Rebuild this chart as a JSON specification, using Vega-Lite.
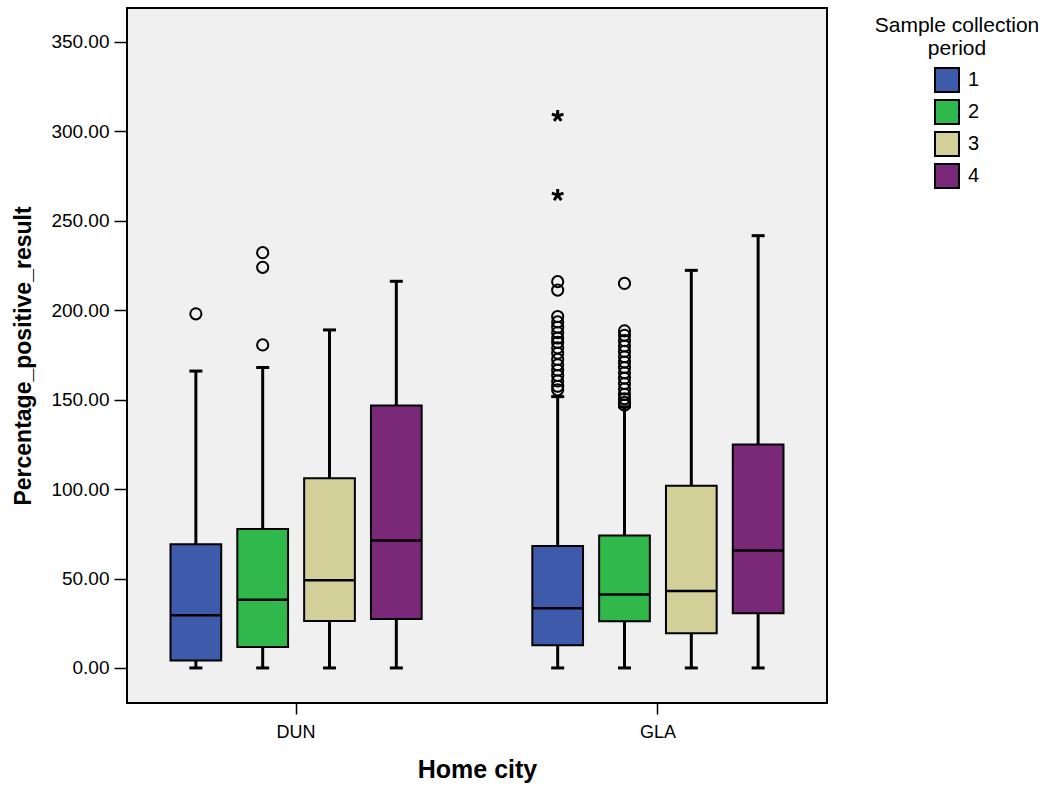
{
  "$schema": "https://vega.github.io/schema/vega-lite/v6.json",
  "width": 700,
  "height": 695,
  "autosize": {"type": "none"},
  "padding": {"left": 127, "top": 8, "right": 230, "bottom": 84},
  "background": "white",
  "config": {
    "font": "Liberation Sans",
    "view": {"stroke": "black", "strokeWidth": 2, "fill": "#f0f0f0"},
    "axis": {"grid": false, "domain": false, "labelColor": "black", "titleColor": "black", "tickColor": "black", "tickWidth": 1.5}
  },
  "datasets": {
    "boxes": [
      {"city": "DUN", "period": "1", "lower": 0, "q1": 4.1, "median": 29.5, "q3": 69.1, "upper": 166},
      {"city": "DUN", "period": "2", "lower": 0, "q1": 11.7, "median": 38.2, "q3": 77.7, "upper": 168},
      {"city": "DUN", "period": "3", "lower": 0, "q1": 26.3, "median": 49, "q3": 106, "upper": 189},
      {"city": "DUN", "period": "4", "lower": 0, "q1": 27.4, "median": 71.2, "q3": 146.8, "upper": 216.2},
      {"city": "GLA", "period": "1", "lower": 0, "q1": 12.7, "median": 33.4, "q3": 68.2, "upper": 151.7},
      {"city": "GLA", "period": "2", "lower": 0, "q1": 26.1, "median": 41, "q3": 74, "upper": 146},
      {"city": "GLA", "period": "3", "lower": 0, "q1": 19.4, "median": 43, "q3": 101.9, "upper": 222.3},
      {"city": "GLA", "period": "4", "lower": 0, "q1": 30.6, "median": 65.6, "q3": 125, "upper": 241.7}
    ],
    "outliers": [
      {"city": "DUN", "period": "1", "value": 198, "kind": "circle"},
      {"city": "DUN", "period": "2", "value": 232.2, "kind": "circle"},
      {"city": "DUN", "period": "2", "value": 224, "kind": "circle"},
      {"city": "DUN", "period": "2", "value": 180.6, "kind": "circle"},
      {"city": "GLA", "period": "1", "value": 308.6, "kind": "star"},
      {"city": "GLA", "period": "1", "value": 264.4, "kind": "star"},
      {"city": "GLA", "period": "1", "value": 216, "kind": "circle"},
      {"city": "GLA", "period": "1", "value": 211.3, "kind": "circle"},
      {"city": "GLA", "period": "1", "value": 196.5, "kind": "circle"},
      {"city": "GLA", "period": "1", "value": 193.5, "kind": "circle"},
      {"city": "GLA", "period": "1", "value": 190.5, "kind": "circle"},
      {"city": "GLA", "period": "1", "value": 187.5, "kind": "circle"},
      {"city": "GLA", "period": "1", "value": 184.5, "kind": "circle"},
      {"city": "GLA", "period": "1", "value": 182, "kind": "circle"},
      {"city": "GLA", "period": "1", "value": 179, "kind": "circle"},
      {"city": "GLA", "period": "1", "value": 176, "kind": "circle"},
      {"city": "GLA", "period": "1", "value": 172.5, "kind": "circle"},
      {"city": "GLA", "period": "1", "value": 169.5, "kind": "circle"},
      {"city": "GLA", "period": "1", "value": 166.5, "kind": "circle"},
      {"city": "GLA", "period": "1", "value": 163.5, "kind": "circle"},
      {"city": "GLA", "period": "1", "value": 160.5, "kind": "circle"},
      {"city": "GLA", "period": "1", "value": 157.5, "kind": "circle"},
      {"city": "GLA", "period": "1", "value": 155.5, "kind": "circle"},
      {"city": "GLA", "period": "2", "value": 215, "kind": "circle"},
      {"city": "GLA", "period": "2", "value": 188.5, "kind": "circle"},
      {"city": "GLA", "period": "2", "value": 186, "kind": "circle"},
      {"city": "GLA", "period": "2", "value": 183, "kind": "circle"},
      {"city": "GLA", "period": "2", "value": 180, "kind": "circle"},
      {"city": "GLA", "period": "2", "value": 177, "kind": "circle"},
      {"city": "GLA", "period": "2", "value": 174, "kind": "circle"},
      {"city": "GLA", "period": "2", "value": 171, "kind": "circle"},
      {"city": "GLA", "period": "2", "value": 168, "kind": "circle"},
      {"city": "GLA", "period": "2", "value": 165, "kind": "circle"},
      {"city": "GLA", "period": "2", "value": 162, "kind": "circle"},
      {"city": "GLA", "period": "2", "value": 159, "kind": "circle"},
      {"city": "GLA", "period": "2", "value": 156, "kind": "circle"},
      {"city": "GLA", "period": "2", "value": 153, "kind": "circle"},
      {"city": "GLA", "period": "2", "value": 150.5, "kind": "circle"},
      {"city": "GLA", "period": "2", "value": 148.5, "kind": "circle"},
      {"city": "GLA", "period": "2", "value": 147, "kind": "circle"}
    ]
  },
  "encoding": {
    "x": {
      "field": "city", "type": "nominal", "title": "Home city",
      "scale": {"paddingInner": 0.2613, "paddingOuter": 0.098},
      "axis": {"labelAngle": 0, "labelFontSize": 18, "tickSize": 11, "labelPadding": 9, "titleFontSize": 25, "titleFontWeight": "bold", "titlePadding": 16}
    },
    "xOffset": {"field": "period", "type": "nominal", "scale": {"paddingInner": 0.241, "paddingOuter": 0.1205}}
  },
  "layer": [
    {
      "data": {"name": "boxes"},
      "mark": {"type": "rule", "color": "black", "strokeWidth": 3},
      "encoding": {
        "y": {
          "field": "lower", "type": "quantitative", "title": "Percentage_positive_result",
          "scale": {"domain": [-19.6, 369], "nice": false, "zero": false},
          "axis": {"values": [0, 50, 100, 150, 200, 250, 300, 350], "format": ".2f", "labelFontSize": 19, "tickSize": 13, "labelPadding": 5, "titleFontSize": 23, "titleFontWeight": "bold", "titlePadding": 15}
        },
        "y2": {"field": "upper"}
      }
    },
    {
      "data": {"name": "boxes"},
      "mark": {"type": "bar", "stroke": "black", "strokeWidth": 2},
      "encoding": {
        "y": {"field": "q1", "type": "quantitative"},
        "y2": {"field": "q3"},
        "color": {
          "field": "period", "type": "nominal",
          "scale": {"domain": ["1", "2", "3", "4"], "range": ["#3d5aab", "#30b84a", "#d3cf98", "#7a2878"]},
          "legend": {
            "orient": "none", "legendX": 748, "legendY": 7,
            "title": ["Sample collection", "period"],
            "titleFontSize": 21, "titleFontWeight": "normal", "titleColor": "black", "titleAlign": "center", "titleAnchor": "middle", "titleLineHeight": 23, "titlePadding": 8,
            "labelFontSize": 20, "labelColor": "black", "labelOffset": 8,
            "symbolType": "square", "symbolSize": 576, "symbolStrokeColor": "black", "symbolStrokeWidth": 2, "symbolOpacity": 1,
            "rowPadding": 0
          }
        }
      }
    },
    {
      "data": {"name": "boxes"},
      "mark": {"type": "tick", "color": "black", "size": 50, "thickness": 2.5, "opacity": 1},
      "encoding": {"y": {"field": "median", "type": "quantitative"}}
    },
    {
      "data": {"name": "boxes"},
      "mark": {"type": "tick", "color": "black", "size": 13, "thickness": 3, "opacity": 1},
      "encoding": {"y": {"field": "lower", "type": "quantitative"}}
    },
    {
      "data": {"name": "boxes"},
      "mark": {"type": "tick", "color": "black", "size": 13, "thickness": 3, "opacity": 1},
      "encoding": {"y": {"field": "upper", "type": "quantitative"}}
    },
    {
      "data": {"name": "outliers"},
      "transform": [{"filter": "datum.kind === 'circle'"}],
      "mark": {"type": "point", "shape": "circle", "filled": false, "stroke": "black", "strokeWidth": 2, "size": 125, "opacity": 1},
      "encoding": {"y": {"field": "value", "type": "quantitative"}}
    },
    {
      "data": {"name": "outliers"},
      "transform": [{"filter": "datum.kind === 'star'"}],
      "mark": {"type": "point", "shape": "M0,0L0,-1M0,0L0.95,-0.31M0,0L0.59,0.81M0,0L-0.59,0.81M0,0L-0.95,-0.31", "filled": false, "stroke": "black", "strokeWidth": 3, "size": 150, "opacity": 1},
      "encoding": {"y": {"field": "value", "type": "quantitative"}}
    }
  ]
}
